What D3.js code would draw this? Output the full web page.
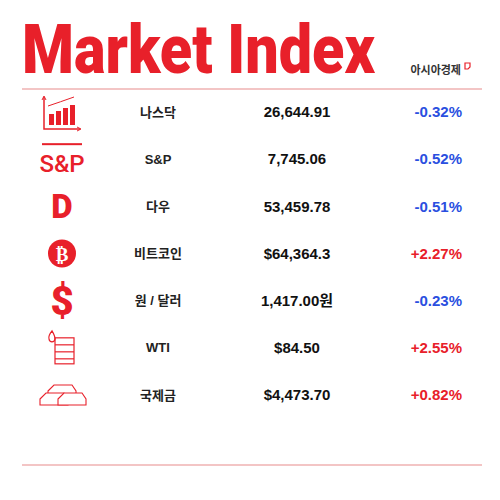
<!DOCTYPE html>
<html><head><meta charset="utf-8">
<script src="https://cdn.jsdelivr.net/npm/d3@7"></script>
<style>body{margin:0;background:#fff}</style>
</head><body><div id="chart"></div>
<script>
var names = ["나스닥", "S&P", "다우", "비트코인", "원 / 달러", "WTI", "국제금"];
var values = ["26,644.91", "7,745.06", "53,459.78", "$64,364.3", "1,417.00원", "$84.50", "$4,473.70"];
var changes = [-0.32, -0.52, -0.51, 2.27, -0.23, 2.55, 0.82];
var icons = ["chart", "sp", "d", "btc", "usd", "oil", "gold"];

var red = "#e8202a";
var font = "'Liberation Sans', 'Noto Sans CJK KR'";
var svg = d3.select("#chart").append("svg").attr("width", 500).attr("height", 500);

svg.append("text").attr("x", 22).attr("y", 73).attr("fill", red)
    .attr("font-family", "Roboto").attr("font-weight", 900).attr("font-size", 68)
    .attr("textLength", 353).attr("lengthAdjust", "spacingAndGlyphs").text("Market Index");
svg.append("text").attr("x", 461).attr("y", 74).attr("text-anchor", "end")
    .attr("font-family", "Noto Sans CJK KR").attr("font-weight", 700).attr("font-size", 11)
    .attr("fill", "#333").text("아시아경제");
svg.append("path").attr("d", "M465,63h5v4l-2,2h-3z").attr("fill", "none").attr("stroke", red).attr("stroke-width", 1.2);

[89, 465].forEach(function (y) {
    svg.append("line").attr("x1", 22).attr("x2", 482).attr("y1", y).attr("y2", y)
        .attr("stroke", "#e88c8c").attr("stroke-width", 1.2);
});

var y = d3.scalePoint().domain(d3.range(names.length)).range([112, 395]);

var rows = svg.selectAll(".row").data(names).enter().append("g")
    .attr("transform", (d, i) => `translate(0,${y(i)})`);

rows.append("text").attr("x", 158).attr("dy", "0.35em").attr("text-anchor", "middle")
    .attr("font-family", font).attr("font-weight", 700).attr("font-size", 13)
    .attr("fill", "#222").text(d => d);
rows.append("text").attr("x", 297).attr("dy", "0.35em").attr("text-anchor", "middle")
    .attr("font-family", font).attr("font-weight", 700).attr("font-size", 15)
    .attr("fill", "#111").text((d, i) => values[i]);
rows.append("text").attr("x", 462).attr("dy", "0.35em").attr("text-anchor", "end")
    .attr("font-family", font).attr("font-weight", 700).attr("font-size", 15)
    .attr("fill", (d, i) => changes[i] < 0 ? "#2a4fe0" : "#e8202a")
    .text((d, i) => (changes[i] < 0 ? "-" : "+") + Math.abs(changes[i]).toFixed(2) + "%");

rows.each(function (d, i) {
    var g = d3.select(this).append("g").attr("transform", "translate(62,0)").attr("fill", red).attr("stroke", red);
    var k = icons[i];
    if (k === "chart") {
        g.append("path").attr("d", "M-18,-15V17H18").attr("fill", "none").attr("stroke-width", 1.5);
        g.append("path").attr("d", "M-20,-12l2,-4l2,4M15,15l4,2l-4,2").attr("fill", "none").attr("stroke-width", 1);
        [[-13, 2], [-6, -1], [1, -4], [8, -7]].forEach(function (b) {
            g.append("rect").attr("x", b[0]).attr("y", b[1]).attr("width", 5).attr("height", 13 - b[1]).attr("stroke", "none");
        });
        g.append("path").attr("d", "M-14,-6Q-2,-10 12,-15").attr("fill", "none").attr("stroke-width", 1);
    } else if (k === "sp") {
        g.append("rect").attr("x", -20).attr("y", -16).attr("width", 40).attr("height", 2).attr("stroke", "none");
        g.append("text").attr("x", 0).attr("y", 13).attr("text-anchor", "middle").attr("stroke", "none")
            .attr("font-family", "Roboto").attr("font-weight", 500).attr("font-size", 24).text("S&P");
    } else if (k === "d") {
        g.append("text").attr("x", 0).attr("y", 12).attr("text-anchor", "middle").attr("stroke", "none")
            .attr("font-family", "Roboto").attr("font-weight", 900).attr("font-size", 33).text("D");
    } else if (k === "btc") {
        g.append("circle").attr("cx", 0).attr("r", 14).attr("stroke", "none");
        g.append("text").attr("x", 0).attr("y", 7).attr("text-anchor", "middle").attr("stroke", "none").attr("fill", "#fff")
            .attr("font-family", "DejaVu Sans").attr("font-weight", 700).attr("font-size", 19).text("₿");
    } else if (k === "usd") {
        g.append("text").attr("x", 0).attr("y", 14).attr("text-anchor", "middle").attr("stroke", "none")
            .attr("font-family", "Roboto").attr("font-weight", 900).attr("font-size", 40).text("$");
    } else if (k === "oil") {
        g.append("rect").attr("x", -7).attr("y", -10).attr("width", 19).attr("height", 26).attr("fill", "none").attr("stroke-width", 1.2);
        [-3, 4, 11].forEach(function (yy) {
            g.append("line").attr("x1", -7).attr("x2", 12).attr("y1", yy).attr("y2", yy).attr("stroke-width", 1.2);
        });
        g.append("path").attr("d", "M-10,-17q-4,5 -3,8a3,3 0 0,0 6,0q0,-3 -3,-8z").attr("fill", "none").attr("stroke-width", 1.2);
    } else if (k === "gold") {
        [[-2, -8], [-10, 0], [8, 0]].forEach(function (b) {
            g.append("path").attr("d", `M${b[0] - 12},${b[1] + 4}l6,-6h18l4,6v6h-28z`)
                .attr("fill", "#fff").attr("stroke-width", 1.1);
        });
    }
});
</script></body></html>
